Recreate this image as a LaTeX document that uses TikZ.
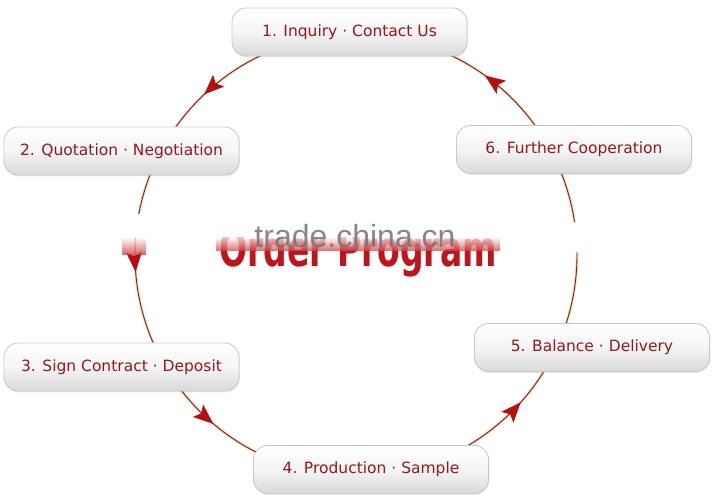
\documentclass[tikz,border=0pt]{standalone}
\usepackage{fontspec}
\setmainfont{DejaVu Sans}
\newfontfamily\wmfont{Liberation Sans}
\usetikzlibrary{decorations.markings,arrows.meta,shadows,fadings}
\definecolor{ringc}{RGB}{120,40,20}
\definecolor{glowc}{RGB}{240,170,120}
\definecolor{tipc}{RGB}{180,16,16}
\definecolor{txtc}{RGB}{150,22,30}
\definecolor{titlec}{RGB}{190,20,28}
\definecolor{bandc}{RGB}{205,60,60}
\begin{document}
\begin{tikzpicture}[x=1pt,y=1pt,
  stepbox/.style={draw=black!22, line width=0.8pt, rounded corners=14pt,
    minimum width=235pt, minimum height=48pt,
    top color=white, bottom color=black!15, middle color=black!4,
    text=txtc, font=\fontsize{15.5}{18}\selectfont,
    drop shadow={opacity=0.15, shadow xshift=0.8pt, shadow yshift=-1.5pt}},
  ring/.style={draw=ringc, line width=0.9pt},
  glow/.style={draw=glowc, line width=2.6pt, opacity=0.5},
  tipmark/.style={color=tipc},
]
\useasboundingbox (0,0) rectangle (712,498);
\fill[white] (0,0) rectangle (712,498);
\coordinate (c) at (356,243);
% ring
\draw[glow] (c) circle (221pt);
\draw[ring, postaction={decorate}, decoration={markings,
  mark=at position 0.1508 with {\arrow[tipmark]{Stealth[length=20pt,width=16pt,inset=4pt]}},
  mark=at position 0.3706 with {\arrow[tipmark]{Stealth[length=20pt,width=16pt,inset=4pt]}},
  mark=at position 0.5122 with {\arrow[tipmark]{Stealth[length=20pt,width=16pt,inset=4pt]}},
  mark=at position 0.6383 with {\arrow[tipmark]{Stealth[length=20pt,width=16pt,inset=4pt]}},
  mark=at position 0.8839 with {\arrow[tipmark]{Stealth[length=20pt,width=16pt,inset=4pt]}}}]
  (c) ++(0:221pt) arc (0:360:221pt);
% faded artefacts on the ring
\fill[white] (124,261) rectangle (150,284);
\shade[top color=white, bottom color=bandc, opacity=0.8] (122,243) rectangle (146,261);
\fill[white, path fading=circle with fuzzy edge 20 percent] (575,261) ellipse (9pt and 17pt);
% title (upper half faded out)
\node[font=\bfseries\fontsize{33}{36}\selectfont, text=titlec, anchor=base] (title) at (358,231) {\scalebox{1}[1.5]{Order Program}};
\fill[white] (200,261) rectangle (520,300);
\shade[top color=white, bottom color=bandc, opacity=0.75] (216,247) rectangle (500,261);
\node[font=\wmfont\fontsize{32}{36}\selectfont, text=black!55, opacity=0.85, anchor=base] (wm) at (355,250) {trade.china.cn};
% steps
\node[stepbox] (n1) at (349.5,466) {1. Inquiry · Contact Us};
\node[stepbox] (n2) at (121.5,347) {2. Quotation · Negotiation};
\node[stepbox] (n3) at (121.5,131) {3. Sign Contract · Deposit};
\node[stepbox] (n4) at (371,28.5) {4. Production · Sample};
\node[stepbox] (n5) at (592,150.5) {5. Balance · Delivery};
\node[stepbox] (n6) at (574,348.5) {6. Further Cooperation};
\end{tikzpicture}
\end{document}
